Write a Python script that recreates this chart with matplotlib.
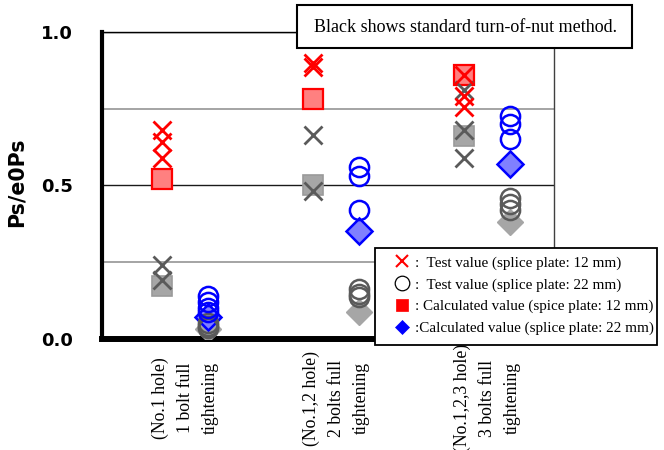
import matplotlib
matplotlib.use("Agg")
import matplotlib.pyplot as plt
from matplotlib.lines import Line2D
from matplotlib.patches import Rectangle

# Tightening stages along the x axis
categories = ["(No.1 hole)\n1 bolt full\ntightening",
              "(No.1,2 hole)\n2 bolts full\ntightening",
              "(No.1,2,3 hole)\n3 bolts full\ntightening"]

# Splice plate 12 mm (red = proposed method, gray = standard turn-of-nut)
test_12 = [[0.68, 0.64, 0.59], [0.90, 0.885], [0.86, 0.79, 0.755]]
test_12_std = [[0.24, 0.19], [0.665, 0.48], [0.81, 0.68, 0.59]]
calc_12 = [0.52, 0.78, 0.86]
calc_12_std = [0.17, 0.50, 0.66]

# Splice plate 22 mm (blue = proposed method, gray = standard turn-of-nut)
test_22 = [[0.14, 0.12, 0.10, 0.085], [0.56, 0.53, 0.42], [0.725, 0.70, 0.65]]
test_22_std = [[0.05, 0.04, 0.035], [0.16, 0.145, 0.135], [0.46, 0.44, 0.42]]
calc_22 = [0.07, 0.35, 0.57]
calc_22_std = [0.03, 0.088, 0.38]

yticks = [0.0, 0.5, 1.0]
ytick_labels = ["0.0", "0.5", "1.0"]
grid_major = [0.5, 1.0]
grid_minor = [0.25, 0.75]

legend_labels = [":  Test value (splice plate: 12 mm)",
                 ":  Test value (splice plate: 22 mm)",
                 ": Calculated value (spice plate: 12 mm)",
                 ":Calculated value (splice plate: 22 mm)"]
note_text = "Black shows standard turn-of-nut method."

DX = 0.15  # horizontal offset of the 12 mm / 22 mm columns


def spread(groups, dx):
    xs, ys = [], []
    for i, vals in enumerate(groups):
        for v in vals:
            xs.append(i + dx)
            ys.append(v)
    return xs, ys


RED = "#ff0000"
BLUE = "#0000ff"
DGRAY = "#5a5a5a"
LGRAY = "#a6a6a6"
W, H = 664, 450

fig = plt.figure(figsize=(6.64, 4.5), dpi=100)
ax = fig.add_axes([102 / W, 1 - 338.5 / H, 451.5 / W, 306.5 / H])
ax.set_xlim(-0.55, 2.44)
ax.set_ylim(0, 1.0)

for g in grid_minor:
    ax.axhline(g, color="#8c8c8c", lw=1.1, zorder=1)
for g in grid_major:
    ax.axhline(g, color="#1a1a1a", lw=1.0, zorder=1)

xs = list(range(len(categories)))

# calculated values (squares / diamonds)
ax.plot([x - DX for x in xs], calc_12_std, ls="none", marker="s", ms=14,
        mfc=LGRAY, mec="#9a9a9a", mew=1.2, zorder=3)
ax.plot([x - DX for x in xs], calc_12, ls="none", marker="s", ms=14,
        mfc="#ff8080", mec=RED, mew=1.6, zorder=3)
ax.plot([x + DX for x in xs], calc_22_std, ls="none", marker="D", ms=13.5,
        mfc=LGRAY, mec=LGRAY, mew=1.0, zorder=3)
ax.plot([x + DX for x in xs], calc_22, ls="none", marker="D", ms=13.5,
        mfc="#8080ff", mec=BLUE, mew=1.8, zorder=3)

# test values (crosses / circles)
x, y = spread(test_12_std, -DX)
ax.plot(x, y, ls="none", marker="x", ms=13, mec=DGRAY, mew=2.0, zorder=4)
x, y = spread(test_12, -DX)
ax.plot(x, y, ls="none", marker="x", ms=13, mec=RED, mew=2.0, zorder=4)
x, y = spread(test_22_std, DX)
ax.plot(x, y, ls="none", marker="o", ms=13.8, mfc="none", mec=DGRAY,
        mew=1.8, zorder=4)
x, y = spread(test_22, DX)
ax.plot(x, y, ls="none", marker="o", ms=13.8, mfc="none", mec=BLUE,
        mew=1.8, zorder=4)

# axes frame
for side in ("left", "bottom"):
    ax.spines[side].set_color("black")
ax.spines["left"].set_linewidth(3.0)
ax.spines["bottom"].set_linewidth(4.3)
ax.spines["top"].set_linewidth(1.0)
ax.spines["top"].set_color("black")
ax.spines["right"].set_linewidth(1.0)
ax.spines["right"].set_color("#404040")

ax.set_yticks(yticks)
ax.set_yticklabels(ytick_labels, fontsize=13, fontweight="bold")
ax.tick_params(axis="y", length=0, pad=21)

ax.set_xticks(xs)
ax.set_xticklabels(categories, rotation=90, fontsize=12.8,
                   family="Liberation Serif", va="center", ha="center",
                   multialignment="center", linespacing=1.6)
ax.tick_params(axis="x", length=0, pad=43)

ax.set_ylabel("Ps/e0Ps", fontsize=14.8, fontweight="bold")
ax.yaxis.set_label_coords(-0.167, 0.51)

# note box at the top
fig.patches.append(Rectangle((297 / W, 1 - 48 / H), 335 / W, 43 / H,
                             transform=fig.transFigure, facecolor="white",
                             edgecolor="black", lw=1.5, zorder=2))
fig.text(465.5 / W, 1 - 27 / H, note_text, family="Liberation Serif",
         fontsize=13, ha="center", va="center", zorder=3)

# legend box and entries
fig.patches.append(Rectangle((375 / W, 1 - 345 / H), 282 / W, 97 / H,
                             transform=fig.transFigure, facecolor="white",
                             edgecolor="black", lw=1.3, zorder=4))
handles = [
    Line2D([], [], ls="none", marker="x", ms=9, mec=RED, mew=1.5),
    Line2D([], [], ls="none", marker="o", ms=10.5, mfc="none", mec="black", mew=0.9),
    Line2D([], [], ls="none", marker="s", ms=8.5, mfc=RED, mec=RED, mew=0.5),
    Line2D([], [], ls="none", marker="D", ms=7.5, mfc=BLUE, mec=BLUE, mew=0.5),
]
leg = fig.legend(handles, legend_labels, loc="upper left",
                 bbox_to_anchor=(391.5 / W, 1 - 256 / H),
                 prop={"family": "Liberation Serif", "size": 10.9},
                 frameon=False, borderaxespad=0, borderpad=0,
                 handlelength=1.4, handletextpad=0.17, labelspacing=0.53)
leg.set_zorder(6)

fig.savefig("out.png", dpi=100)
